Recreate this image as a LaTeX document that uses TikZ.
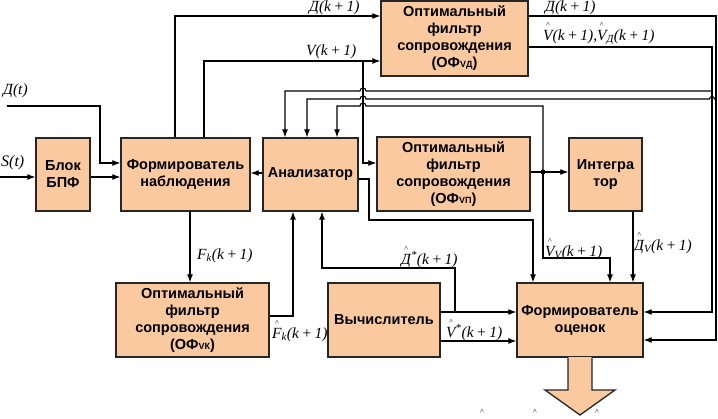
\documentclass[tikz,border=0pt]{standalone}
\usepackage{fontspec}
\setmainfont{Liberation Serif}
\newfontfamily\boxfont{Liberation Sans}
\usetikzlibrary{arrows.meta}
\definecolor{peach}{RGB}{250,201,160}
\newcommand\hatt[1]{\leavevmode\vbox{\offinterlineskip\halign{\hfil##\hfil\cr{\fontsize{8}{8}\selectfont\upshape\textasciicircum}\cr\noalign{\kern2pt}#1\cr}}}
\newcommand\subsm[1]{{\fontsize{9}{9}\selectfont #1}}
\newcommand\kk{(k\,+\,1)}
\tikzset{
  blk/.style={draw=black!85, line width=1.3pt, fill=peach, align=center, inner sep=0pt,
    font=\boxfont\bfseries\fontsize{14.5}{17}\selectfont},
  con/.style={line width=1.1pt, draw=black},
  arr/.style={con, -{Latex[length=8pt,width=6pt]}},
  lbl/.style={font=\itshape\fontsize{15.5}{17}\selectfont, inner sep=0pt, anchor=base west},
}
\begin{document}
\begin{tikzpicture}[x=1pt,y=-1pt]
\useasboundingbox (0,0) rectangle (718,418);
% blocks
\node[blk, minimum width=54pt, minimum height=73pt] (bpf) at (63,174.5) {Блок\\БПФ};
\node[blk, minimum width=129pt, minimum height=73pt] (fn) at (185.5,174.5) {Формирователь\\наблюдения};
\node[blk, minimum width=95pt, minimum height=73pt] (an) at (310.5,174.5) {Анализатор};
\node[blk, minimum width=153pt, minimum height=74pt] (ovp) at (453.5,174) {Оптимальный\\фильтр\\сопровождения\\(ОФ\subsm{VП})};
\node[blk, minimum width=73pt, minimum height=73pt] (integ) at (605.5,174.5) {Интегра\\тор};
\node[blk, minimum width=147pt, minimum height=75pt] (ovd) at (454.5,38.5) {Оптимальный\\фильтр\\сопровождения\\(ОФ\subsm{VД})};
\node[blk, minimum width=153pt, minimum height=74pt] (ovk) at (192.5,320) {Оптимальный\\фильтр\\сопровождения\\(ОФ\subsm{VК})};
\node[blk, minimum width=112pt, minimum height=74pt] (vych) at (384,320) {Вычислитель};
\node[blk, minimum width=126pt, minimum height=74pt] (fo) at (580,320) {Формирователь\\оценок};
% big output arrow
\fill[peach] (568,357) -- (568,390) -- (545,390) -- (580,415) -- (615,390) -- (592,390) -- (592,357) -- cycle;
\draw[line width=1.3pt, black!85, line join=miter] (568,357.6) -- (568,390) -- (545,390) -- (580,415) -- (615,390) -- (592,390) -- (592,357.6);
% inputs
\coordinate (sin) at (0,177);
\draw[arr] (sin) -- (sin -| bpf.west);
\draw[arr] (bpf.east |- sin) -- (fn.west |- sin);
\coordinate (dt) at (7,106);
\draw[arr] (dt) -- (100,106) -- (100,163) -- (fn.west |- 100,163);
% to OFvd
\draw[arr] (175,0 |- fn.north) -- (175,16) -- (ovd.west |- 175,16);
\draw[arr] (204,0 |- fn.north) -- (204,61) -- (ovd.west |- 204,61);
\draw[arr] (363,61) -- (363,163) -- (ovp.west |- 363,163);
% OFvd outputs
\draw[arr] (ovd.east |- 0,16) -- (716,16) -- (716,340) -- (fo.east |- 716,340);
\draw[arr] (ovd.east |- 0,47) -- (712,47) -- (712,312) -- (fo.east |- 712,312);
\draw[arr] (712,91) -- (366,91) arc(0:-180:3) -- (285,91) -- (285,0 |- an.north);
\draw[arr] (716,99) -- (714.5,99) arc(0:-180:2.5) -- (366,99) arc(0:-180:3) -- (307,99) -- (307,0 |- an.north);
% OFvp outputs
\draw[arr] (ovp.east |- 0,172) -- (integ.west |- 0,172);
\fill (543,172) circle (2.5);
\draw[arr] (543,172) -- (543,106) -- (366,106) arc(0:-180:3) -- (337,106) -- (337,0 |- an.north);
\draw[arr] (543,172) -- (543,258) -- (610,258) -- (610,0 |- fo.north);
\draw[arr] (633,0 |- integ.south) -- (633,0 |- fo.north);
% analyser
\draw[arr] (an.west |- 0,173) -- (fn.east |- 0,173);
\draw[arr] (an.east |- 0,179) -- (369,179) -- (369,220) -- (533,220) -- (533,0 |- fo.north);
% lower part
\draw[arr] (190,0 |- fn.south) -- (190,0 |- ovk.north);
\draw[arr] (ovk.east |- 0,316) -- (293,316) -- (293,0 |- an.south);
\draw[arr] (vych.east |- 0,312) -- (fo.west |- 0,312);
\draw[arr] (455,312) -- (455,268) -- (322,268) -- (322,0 |- an.south);
\draw[arr] (vych.east |- 0,341) -- (fo.west |- 0,341);
% labels
\node[lbl] (l1) at (309,11) {Д\kk};
\node[lbl] (l2) at (306,55) {V\kk};
\node[lbl] (l3) at (3,94) {Д(t)};
\node[lbl, font=\itshape\fontsize{16}{17}\selectfont] (l4) at (1,166) {S(t)};
\node[lbl] (l5) at (197,259) {F\textsubscript{k}\kk};
\node[lbl] (l6) at (272,338) {\hatt{F}\textsubscript{k}\kk};
\node[lbl] (l7) at (401,264) {\hatt{Д}\textsuperscript{*}\kk};
\node[lbl] (l8) at (446,337) {\hatt{V}\textsuperscript{*}\kk};
\node[lbl] (l9) at (545,256) {\hatt{V}\textsubscript{V}\kk};
\node[lbl] (l10) at (634,250) {\hatt{Д}\textsubscript{V}\kk};
\node[lbl] (l11) at (545,11) {Д\kk};
\node[lbl] (l12) at (543,40) {\hatt{V}\kk,\hatt{V}\textsubscript{Д}\kk};
\foreach \x [count=\i] in {482,535,597}
  \node[inner sep=0pt, anchor=north, font=\fontsize{8}{8}\selectfont] (h\i) at (\x,409) {\textasciicircum};
\end{tikzpicture}
\end{document}
